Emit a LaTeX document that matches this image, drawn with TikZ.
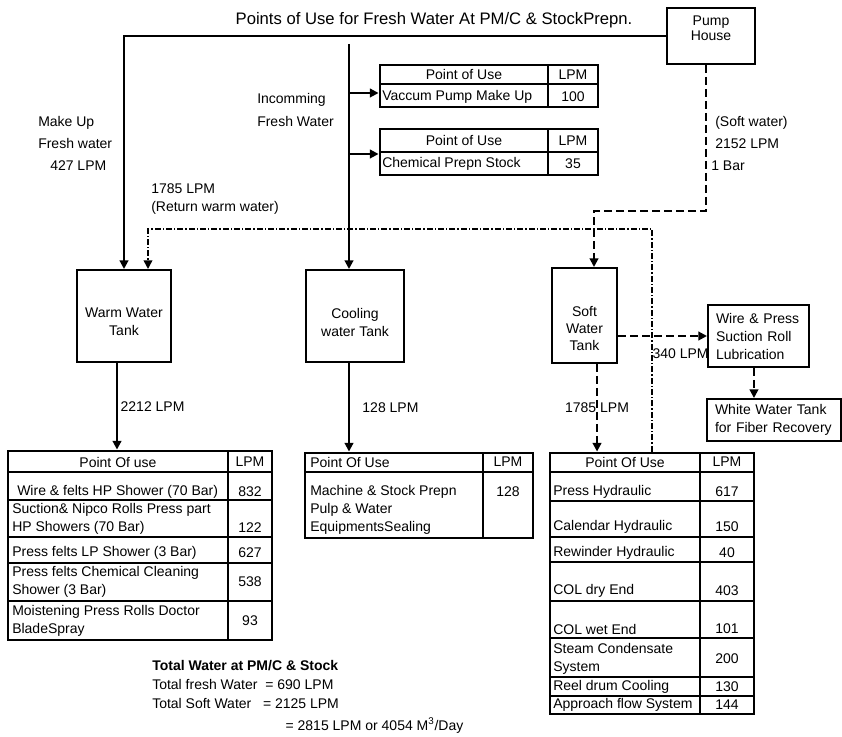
\documentclass[tikz,border=0pt]{standalone}
\usepackage{fontspec}
\setmainfont{Liberation Sans}
\usetikzlibrary{arrows.meta, positioning, calc}

\begin{document}
\begin{tikzpicture}[x=0.75pt, y=-0.75pt,
  every node/.style={font=\fontsize{10.5}{13.5}\selectfont},
  tank/.style={draw, line width=1.5pt, minimum height=69pt, inner sep=0pt},
  box/.style={draw, line width=1.5pt, align=left, inner xsep=6pt, inner ysep=2pt},
  tbl/.style={draw, line width=2.2pt, inner sep=0pt},
  grid/.style={line width=1.5pt},
  txt/.style={anchor=west, align=left, inner sep=0pt},
  arr/.style={-{Triangle[length=6.5pt, width=6.5pt]}, line width=1.5pt},
  sarr/.style={arr, dash pattern=on 6pt off 3pt},
  rarr/.style={arr, line width=1.2pt, dash pattern=on 4.5pt off 1.5pt on 1pt off 1.5pt}
]
\useasboundingbox (0,0) rectangle (842,737);

% Title and source
\node[font=\fontsize{12.5}{15}\selectfont] (title) at (434,20) {Points of Use for Fresh Water At PM/C \& StockPrepn.};
\node[draw, line width=1.5pt, minimum width=66pt, minimum height=42pt,
      label={[align=center, anchor=north, yshift=-3pt]north:Pump\\[-2pt]House}] (pump) at (711,36) {};

% Tanks
\node[tank, minimum width=70.5pt, label={[align=center, yshift=-4.5pt]center:Warm Water\\Tank}] (wtank) at (124,316) {};
\node[tank, minimum width=73.5pt, label={[align=center, yshift=-4.9pt]center:Cooling\\water Tank}] (ctank) at (355,316) {};
\node[tank, minimum width=48.75pt, minimum height=71.25pt,
      label={[align=center, yshift=-9.4pt]center:Soft\\[-0.75pt]Water\\[-0.75pt]Tank}] (stank) at (584.5,315.5) {};

\node[box, text width=63.75pt, minimum height=46.5pt] (wire) at (758.5,336) {Wire \& Press\\Suction Roll\\Lubrication};
\node[box, text width=88.5pt, minimum height=31.5pt] (white) at (774,420) {White Water Tank\\for Fiber Recovery};

% Labels
\node[txt] (makeup) at (38,143) {Make Up\\[3pt]Fresh water\\[3pt]\hspace{9pt}427 LPM};
\node[txt] (incoming) at (257,110) {Incomming\\[3.5pt]Fresh Water};
\node[txt] (softlbl) at (711,144) {\hspace{3pt}(Soft water)\\[3pt]\hspace{3pt}2152 LPM\\[3pt]1 Bar};
\node[txt] (retlbl) at (151,199) {1785 LPM\\(Return warm water)};

% Small tables - fresh water
\node[tbl, minimum width=163.5pt, minimum height=31.5pt] (vac) at (489,86) {};
\draw[grid] (380,84) -- (598,84);
\draw[grid] (548,65) -- (548,107);
\node (vach) at (464,75) {Point of Use};
\node (vacl) at (573,75) {LPM};
\node[txt] (vacr) at (382,97) {Vaccum Pump Make Up};
\node (vacv) at (573,97) {100};

\node[tbl, minimum width=163.5pt, minimum height=34.5pt] (chem) at (489,152) {};
\draw[grid] (380,152) -- (598,152);
\draw[grid] (548,129) -- (548,175);
\node (chemh) at (464,141) {Point of Use};
\node (cheml) at (573,141) {LPM};
\node[txt] (chemr) at (382,164) {Chemical Prepn Stock};
\node (chemv) at (573,164) {35};

% Warm water table
\node[tbl, minimum width=198pt, minimum height=141.75pt] (wtab) at (140,545.5) {};
\draw[grid] (8,472) -- (272,472);
\draw[grid] (8,500) -- (272,500);
\draw[grid] (8,537) -- (272,537);
\draw[grid] (8,563) -- (272,563);
\draw[grid] (8,601) -- (272,601);
\draw[grid] (228,451) -- (228,640);
\node (wh1) at (118,462) {Point Of use};
\node (wh2) at (250,462) {LPM};
\node[txt] (w1) at (17,492) {Wire \& felts HP Shower (70 Bar)};
\node (w1v) at (250,492) {832};
\node[txt] (w2) at (12,519) {Suction\& Nipco Rolls Press part\\HP Showers (70 Bar)};
\node (w2v) at (250,528) {122};
\node[txt] (w3) at (12,553) {Press felts LP Shower (3 Bar)};
\node (w3v) at (250,553) {627};
\node[txt] (w4) at (12,582) {Press felts Chemical Cleaning\\Shower (3 Bar)};
\node (w4v) at (250,582) {538};
\node[txt] (w5) at (12,621) {Moistening Press Rolls Doctor\\BladeSpray};
\node (w5v) at (250,621) {93};

% Cooling water table
\node[tbl, minimum width=171pt, minimum height=63.75pt] (ctab) at (419,495.5) {};
\draw[grid] (305,472) -- (533,472);
\draw[grid] (483,453) -- (483,538);
\node[txt] (ch1) at (310,462) {Point Of Use};
\node (ch2) at (508,462) {LPM};
\node[txt] (c1) at (310,510) {Machine \& Stock Prepn\\Pulp \& Water\\EquipmentsSealing};
\node (c1v) at (508,492) {128};

% Soft water table
\node[tbl, minimum width=153pt, minimum height=195.75pt] (stab) at (652,583.5) {};
\draw[grid] (550,472) -- (754,472);
\draw[grid] (550,501) -- (754,501);
\draw[grid] (550,537) -- (754,537);
\draw[grid] (550,562) -- (754,562);
\draw[grid] (550,601) -- (754,601);
\draw[grid] (550,638) -- (754,638);
\draw[grid] (550,677) -- (754,677);
\draw[grid] (550,696) -- (754,696);
\draw[grid] (700,453) -- (700,714);
\node (sh1) at (625,462) {Point Of Use};
\node (sh2) at (727,462) {LPM};
\node[txt] (s1) at (553,492) {Press Hydraulic};
\node (s1v) at (727,492) {617};
\node[txt] (s2) at (553,527) {Calendar Hydraulic};
\node (s2v) at (727,527) {150};
\node[txt] (s3) at (553,553) {Rewinder Hydraulic};
\node (s3v) at (727,553) {40};
\node[txt] (s4) at (553,591) {COL dry End};
\node (s4v) at (727,591) {403};
\node[txt] (s5) at (553,629) {COL wet End};
\node (s5v) at (727,629) {101};
\node[txt] (s6) at (553,659) {Steam Condensate\\System};
\node (s6v) at (727,659) {200};
\node[txt] (s7) at (553,687) {Reel drum Cooling};
\node (s7v) at (727,687) {130};
\node[txt] (s8) at (553,705) {Approach flow System};
\node (s8v) at (727,705) {144};

% Totals
\node[txt] (total) at (152,697) {\textbf{Total Water at PM/C \& Stock}\\[0.5pt]Total fresh Water\ \ = 690 LPM\\[0.5pt]Total Soft Water\ \ \ = 2125 LPM\\[3pt]\hspace{100pt}= 2815 LPM or 4054 M\textsuperscript{3}/Day};

% Connectors
\coordinate (fwin) at (349,44);
\coordinate (sbend) at (594,211);
\coordinate (rbend) at (148,229);
\coordinate (wout) at ([xshift=-5.25pt]wtank.south);
\coordinate (sout) at ([xshift=9.4pt]stank.south);
\coordinate (wdn) at ([xshift=-3.4pt]wire.south);

\draw[arr] (pump.west) -| (wtank.north);
\draw[arr] (fwin) -- (fwin |- ctank.north);
\draw[arr] (fwin |- 0,93) -- (vac.west |- 0,93);
\draw[arr] (fwin |- 0,154) -- (chem.west |- 0,154);
\draw[sarr] ([xshift=-3.75pt]pump.south) |- (sbend) -- (sbend |- stank.north);
\draw[rarr] (stab.north) |- (rbend) -- (rbend |- wtank.north);

\draw[arr] (wout) -- (wout |- wtab.north) node[midway, right, inner sep=2pt] {2212 LPM};
\draw[arr] (fwin |- ctank.south) -- (fwin |- ctab.north) node[midway, right=6pt] {128 LPM};
\draw[sarr] (sout) -- (sout |- stab.north) node[midway] {1785 LPM};
\draw[sarr] (stank.east |- wire.west) -- (wire.west)
  node[pos=1, anchor=north east, inner sep=1pt, xshift=3pt, yshift=-8pt] {340 LPM};
\draw[sarr] (wdn) -- (wdn |- white.north);
\end{tikzpicture}
\end{document}
